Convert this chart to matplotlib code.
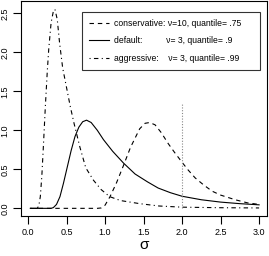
import matplotlib
matplotlib.use("Agg")
import matplotlib.pyplot as plt

plt.rcParams['font.family'] = ['Liberation Sans', 'DejaVu Sans']

# values (sigma, density)
agg_sigma = [0.03, 0.12, 0.14, 0.16, 0.18, 0.20, 0.225, 0.25, 0.27, 0.30, 0.33, 0.35,
             0.38, 0.41, 0.45, 0.50, 0.55, 0.60, 0.675, 0.75, 0.85, 0.95, 1.06, 1.2,
             1.45, 1.7, 2.0, 2.5, 3.0]
agg_dens = [0.0, 0.0, 0.03, 0.15, 0.42, 0.80, 1.30, 1.75, 2.05, 2.38, 2.53, 2.55,
            2.42, 2.12, 1.80, 1.55, 1.30, 1.08, 0.78, 0.52, 0.36, 0.24, 0.15, 0.10,
            0.06, 0.03, 0.015, 0.008, 0.005]

def_sigma = [0.03, 0.30, 0.33, 0.37, 0.415, 0.46, 0.51, 0.56, 0.61, 0.66, 0.71, 0.76,
             0.82, 0.90, 0.98, 1.10, 1.24, 1.39, 1.55, 1.69, 1.85, 2.0, 2.25, 2.5,
             2.75, 3.0]
def_dens = [0.0, 0.0, 0.01, 0.05, 0.15, 0.32, 0.53, 0.74, 0.92, 1.04, 1.11, 1.13,
            1.10, 1.00, 0.88, 0.73, 0.58, 0.44, 0.34, 0.26, 0.20, 0.155, 0.11, 0.08,
            0.06, 0.045]

con_sigma = [0.03, 0.90, 0.95, 1.00, 1.065, 1.15, 1.24, 1.33, 1.45, 1.52, 1.58, 1.65,
             1.73, 1.82, 1.90, 2.0, 2.08, 2.17, 2.28, 2.39, 2.5, 2.69, 2.85, 3.0]
con_dens = [0.0, 0.0, 0.005, 0.04, 0.15, 0.33, 0.55, 0.78, 1.02, 1.09, 1.10, 1.07,
            0.97, 0.83, 0.72, 0.59, 0.49, 0.39, 0.30, 0.22, 0.17, 0.11, 0.07, 0.05]

sighat = 2.0
sighat_top = 1.35

labels = ["conservative: \u03bd=10, quantile= .75",
          "default:          \u03bd= 3, quantile= .9",
          "aggressive:    \u03bd= 3, quantile= .99"]

fig = plt.figure(figsize=(2.69, 2.56), dpi=100)
ax = fig.add_axes([0.078, 0.156, 0.915, 0.840])

l1, = ax.plot(con_sigma, con_dens, color='black', lw=0.8, dashes=(4, 3.5))
l2, = ax.plot(def_sigma, def_dens, color='black', lw=0.8)
l3, = ax.plot(agg_sigma, agg_dens, color='black', lw=0.8, dashes=(1, 3, 4, 3))
ax.plot([sighat, sighat], [0, sighat_top], color='#888888', lw=0.8, dashes=(1, 1.5))

ax.set_xlim(-0.091, 3.104)
ax.set_ylim(-0.099, 2.657)
ax.set_xticks([0.0, 0.5, 1.0, 1.5, 2.0, 2.5, 3.0])
ax.set_yticks([0.0, 0.5, 1.0, 1.5, 2.0, 2.5])
ax.set_xticklabels(["0.0", "0.5", "1.0", "1.5", "2.0", "2.5", "3.0"])
ax.set_yticklabels(["0.0", "0.5", "1.0", "1.5", "2.0", "2.5"], rotation=90, va='center')
ax.tick_params(direction='out', length=5.5, width=0.8, labelsize=6.5, pad=3)
for s in ax.spines.values():
    s.set_linewidth(0.8)
ax.set_xlabel("\u03c3", fontsize=11, labelpad=1)

leg = ax.legend([l1, l2, l3], labels, loc='upper left', mode='expand',
                bbox_to_anchor=(0.247, 0.0, 0.725, 0.949),
                fontsize=6.2, frameon=True, fancybox=False, edgecolor='black',
                handlelength=2.4, handletextpad=0.5, labelspacing=1.0,
                borderpad=0.8, borderaxespad=0)
leg.get_frame().set_linewidth(0.8)

fig.savefig("out.png", dpi=100)
